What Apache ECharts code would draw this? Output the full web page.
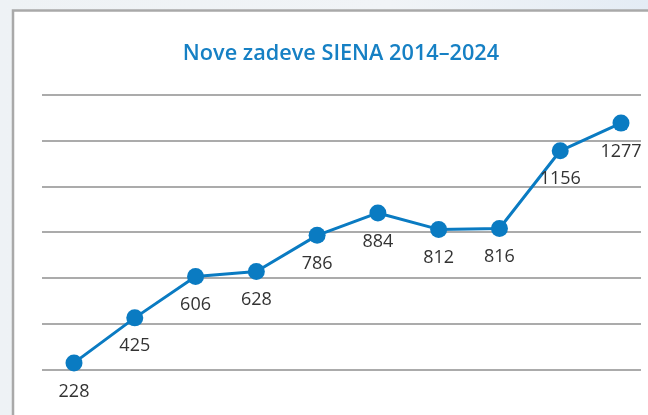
<!DOCTYPE html>
<html>
<head>
<meta charset="utf-8">
<script src="https://cdn.jsdelivr.net/npm/echarts@6/dist/echarts.min.js"></script>
<style>
html,body{margin:0;padding:0;background:#eef2f6;}
#chart{width:648px;height:415px;}
</style>
</head>
<body>
<div id="chart"></div>
<script>
const titleText = 'Nove zadeve SIENA 2014–2024';
const years = ['2014','2015','2016','2017','2018','2019','2020','2021','2022','2023'];
const cases = [228, 425, 606, 628, 786, 884, 812, 816, 1156, 1277];
const yTicks = [200, 400, 600, 800, 1000, 1200, 1400];

const chart = echarts.init(document.getElementById('chart'), null, {renderer: 'canvas'});
const yMin = yTicks[0], yMax = yTicks[yTicks.length - 1], yStep = yTicks[1] - yTicks[0];

chart.setOption({
  backgroundColor: {
    type: 'linear', x: 0, y: 0, x2: 1, y2: 0,
    colorStops: [
      {offset: 0, color: '#eef2f5'},
      {offset: 0.6, color: '#f1f4f7'},
      {offset: 1, color: '#e4ecf5'}
    ]
  },
  animation: false,
  graphic: [{
    type: 'rect', z: -10, silent: true,
    shape: {x: 13, y: 10.5, width: 720, height: 500},
    style: {fill: '#ffffff', stroke: '#a9a9a9', lineWidth: 2.5}
  }],
  title: {
    text: titleText,
    left: 336,
    textAlign: 'center',
    top: 38,
    textStyle: {fontFamily: 'Open Sans', fontSize: 21.7, fontWeight: 600, color: '#1680c4'}
  },
  grid: [
    {left: 42, right: 7, top: 95, bottom: 45.7},
    {left: 74, right: 27, top: 95, bottom: 45.7}
  ],
  xAxis: [
    {type: 'category', gridIndex: 0, data: years, show: false},
    {type: 'category', gridIndex: 1, data: years, boundaryGap: false, show: false}
  ],
  yAxis: [
    {type: 'value', gridIndex: 0, min: yMin, max: yMax, interval: yStep,
     axisLine: {show: false}, axisTick: {show: false}, axisLabel: {show: false},
     splitLine: {show: true, lineStyle: {color: '#ababab', width: 2.2}}},
    {type: 'value', gridIndex: 1, min: yMin, max: yMax, interval: yStep, show: false,
     splitLine: {show: false}}
  ],
  series: [{
    type: 'line',
    xAxisIndex: 1, yAxisIndex: 1,
    data: cases,
    symbol: 'circle',
    symbolSize: 17,
    itemStyle: {color: '#0a7bc2'},
    lineStyle: {color: '#0a7bc2', width: 3},
    label: {
      show: true, position: 'bottom', distance: 11,
      fontFamily: 'Open Sans', fontSize: 18, color: '#333333'
    }
  }]
});
</script>
</body>
</html>
